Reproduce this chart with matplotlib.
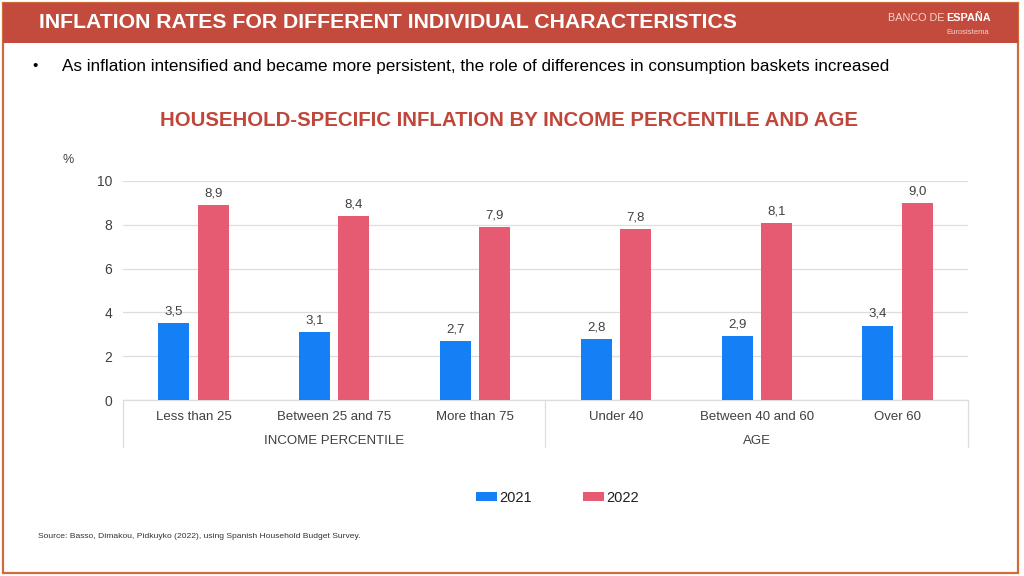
import matplotlib
matplotlib.use("Agg")
import matplotlib.pyplot as plt
from matplotlib.patches import Rectangle
from matplotlib.transforms import blended_transform_factory
import numpy as np

categories = ["Less than 25", "Between 25 and 75", "More than 75",
              "Under 40", "Between 40 and 60", "Over 60"]
groups = ["INCOME PERCENTILE", "AGE"]
group_sizes = [3, 3]
series_names = ["2021", "2022"]
values_2021 = [3.5, 3.1, 2.7, 2.8, 2.9, 3.4]
values_2022 = [8.9, 8.4, 7.9, 7.8, 8.1, 9.0]
yticks = [0, 2, 4, 6, 8, 10]

BLUE = "#1580F5"
PINK = "#E65A72"
HEADER = "#C24B3D"
TXT = "#404040"

plt.rcParams['font.family'] = ['Liberation Sans', 'DejaVu Sans']

W, H = 1024, 576
fig = plt.figure(figsize=(W / 100, H / 100), dpi=100)

def fx(px):
    return px / W

def fy(py):
    return 1 - py / H

# border and header
fig.patches.append(Rectangle((fx(3), fy(573)), fx(1015), 570 / H, transform=fig.transFigure,
                             fill=False, edgecolor="#CF6A3A", linewidth=1.6, zorder=0))
fig.patches.append(Rectangle((fx(3), fy(43)), fx(1015), 40 / H, transform=fig.transFigure,
                             facecolor=HEADER, edgecolor="none", zorder=1))
fig.text(fx(39), fy(23), "INFLATION RATES FOR DIFFERENT INDIVIDUAL CHARACTERISTICS",
         color="white", fontsize=15.3, fontweight="bold", va="center", ha="left", zorder=2)
fig.text(fx(945), fy(18), "BANCO DE", color="#F3D2CC", fontsize=7.8, va="center", ha="right", zorder=2)
fig.text(fx(946), fy(18), "ESPAÑA", color="white", fontsize=7.8, fontweight="bold",
         va="center", ha="left", zorder=2)
fig.text(fx(989), fy(32), "Eurosistema", color="#F3D2CC", fontsize=5.5, va="center", ha="right", zorder=2)

fig.text(fx(32), fy(66), "•", color="black", fontsize=11, va="center", ha="left")
fig.text(fx(62), fy(66),
         "As inflation intensified and became more persistent, the role of differences in consumption baskets increased",
         color="black", fontsize=12.3, va="center", ha="left")

fig.text(fx(509), fy(121), "HOUSEHOLD-SPECIFIC INFLATION BY INCOME PERCENTILE AND AGE",
         color="#C0463A", fontsize=14.7, fontweight="bold", va="center", ha="center")

# axes
ax = fig.add_axes([fx(123), fy(400), fx(968) - fx(123), (400 - 181) / H])
x = np.arange(len(categories))
bw = 0.22
off = 0.14
b1 = ax.bar(x - off, values_2021, bw, color=BLUE, label=series_names[0], zorder=3)
b2 = ax.bar(x + off, values_2022, bw, color=PINK, label=series_names[1], zorder=3)
for bars, vals in ((b1, values_2021), (b2, values_2022)):
    for r, v in zip(bars, vals):
        ax.annotate(f"{v:.1f}".replace(".", ","), (r.get_x() + r.get_width() / 2, v),
                    xytext=(0, 4), textcoords="offset points", ha="center", va="bottom",
                    fontsize=9.5, color=TXT)

ax.set_xlim(-0.5, len(categories) - 0.5)
ax.set_ylim(0, 10)
ax.set_yticks(yticks)
ax.set_yticklabels([str(t) for t in yticks])
ax.yaxis.grid(True, color="#DDDDDD", linewidth=0.9, zorder=0)
ax.set_axisbelow(True)
for s in ("top", "right", "left"):
    ax.spines[s].set_visible(False)
ax.spines["bottom"].set_color("#DDDDDD")
ax.spines["bottom"].set_linewidth(0.9)
ax.tick_params(axis="y", length=0, pad=8, labelsize=10, labelcolor=TXT)
ax.set_xticks(x)
ax.set_xticklabels(categories)
ax.tick_params(axis="x", length=0, pad=8, labelsize=9.5, labelcolor=TXT)

tr = blended_transform_factory(ax.transData, ax.transAxes)
edges = [-0.5]
for g in group_sizes:
    edges.append(edges[-1] + g)
for e in edges:
    ax.plot([e, e], [0, -47 / 219], transform=tr, color="#DDDDDD", linewidth=0.9, clip_on=False)
for i, g in enumerate(groups):
    c = (edges[i] + edges[i + 1]) / 2
    ax.text(c, -41 / 219, g, transform=tr, ha="center", va="center", fontsize=9.5, color=TXT)

fig.text(fx(68), fy(160), "%", fontsize=9, color=TXT, va="center", ha="center")

leg = fig.legend(handles=[b1, b2], labels=series_names, loc="center",
                 bbox_to_anchor=(fx(557), fy(498)), ncol=2, frameon=False,
                 fontsize=10.5, handlelength=1.5, handleheight=0.6, handletextpad=0.1,
                 columnspacing=3.5)
for t in leg.get_texts():
    t.set_color("#202020")

fig.text(fx(38), fy(537), "Source: Basso, Dimakou, Pidkuyko (2022), using Spanish Household Budget Survey.",
         fontsize=6.1, color="#333333", va="center", ha="left")

fig.savefig("out.png", dpi=100)
